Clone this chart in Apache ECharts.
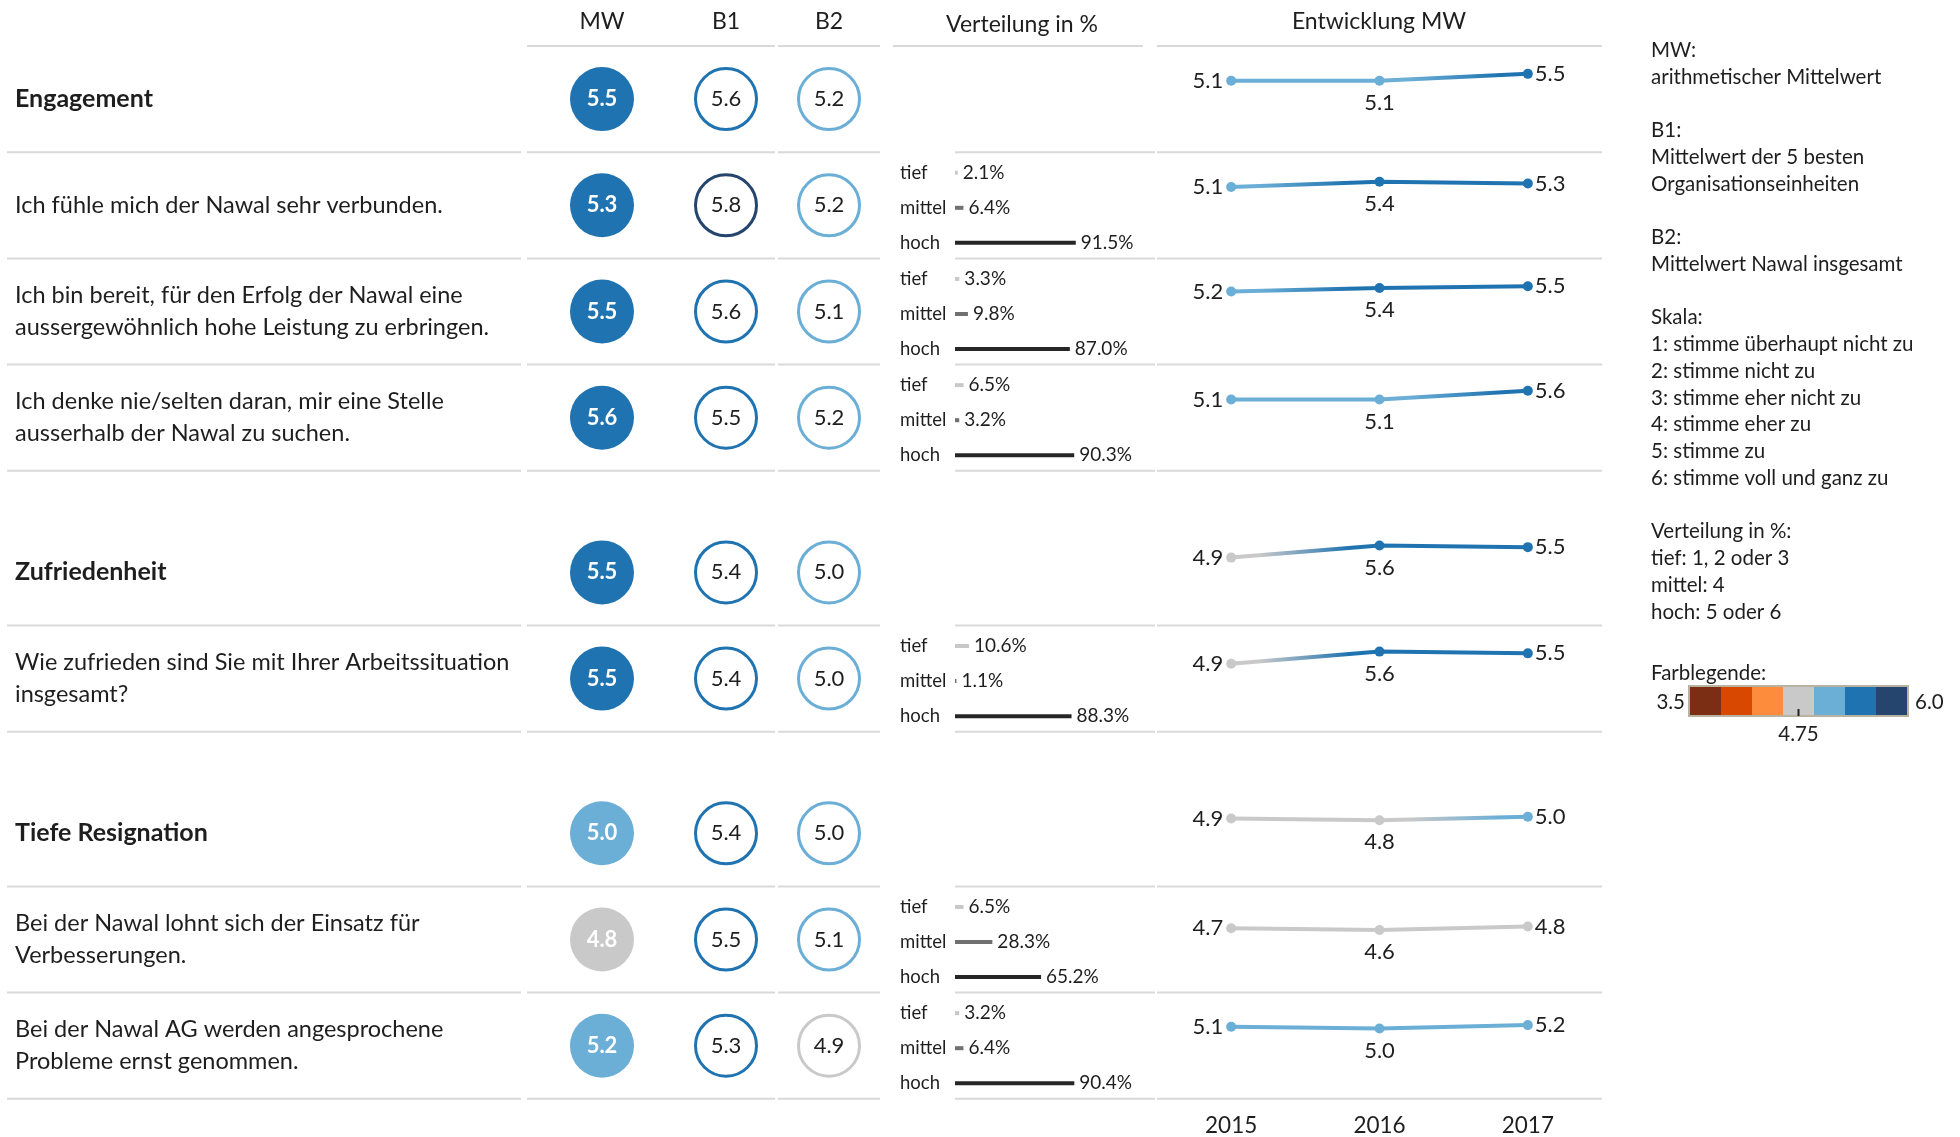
<!DOCTYPE html>
<html>
<head>
<meta charset="utf-8">
<script src="https://cdn.jsdelivr.net/npm/echarts@6/dist/echarts.min.js"></script>
<style>
  html, body { margin: 0; padding: 0; background: #fff; }
  #main { width: 1960px; height: 1137px; }
</style>
</head>
<body>
<div id="main"></div>
<script>
// rows of the table, section titles start at the indices in sectionStarts
const rowLabels = [
  'Engagement',
  'Ich fühle mich der Nawal sehr verbunden.',
  'Ich bin bereit, für den Erfolg der Nawal eine\naussergewöhnlich hohe Leistung zu erbringen.',
  'Ich denke nie/selten daran, mir eine Stelle\nausserhalb der Nawal zu suchen.',
  'Zufriedenheit',
  'Wie zufrieden sind Sie mit Ihrer Arbeitssituation\ninsgesamt?',
  'Tiefe Resignation',
  'Bei der Nawal lohnt sich der Einsatz für\nVerbesserungen.',
  'Bei der Nawal AG werden angesprochene\nProbleme ernst genommen.'
]
const sectionStarts = [0, 4, 6]
const columns = ['MW', 'B1', 'B2']

const mwValues = [5.5, 5.3, 5.5, 5.6, 5.5, 5.5, 5.0, 4.8, 5.2]
const b1Values = [5.6, 5.8, 5.6, 5.5, 5.4, 5.4, 5.4, 5.5, 5.3]
const b2Values = [5.2, 5.2, 5.1, 5.2, 5.0, 5.0, 5.0, 5.1, 4.9]

// Verteilung in % (null = Abschnittstitel ohne Verteilung)
const distLevels = ['tief', 'mittel', 'hoch']
const tiefPct = [null, 2.1, 3.3, 6.5, null, 10.6, null, 6.5, 3.2]
const mittelPct = [null, 6.4, 9.8, 3.2, null, 1.1, null, 28.3, 6.4]
const hochPct = [null, 91.5, 87.0, 90.3, null, 88.3, null, 65.2, 90.4]

// Entwicklung MW
const years = ['2015', '2016', '2017']
const trendValues = [
  [5.1, 5.1, 5.5],
  [5.1, 5.4, 5.3],
  [5.2, 5.4, 5.5],
  [5.1, 5.1, 5.6],
  [4.9, 5.6, 5.5],
  [4.9, 5.6, 5.5],
  [4.9, 4.8, 5.0],
  [4.7, 4.6, 4.8],
  [5.1, 5.0, 5.2]
]

// Farblegende
const scaleMin = 3.5
const scaleMax = 6.0
const scaleMid = 4.75
const scaleColors = ['#7b2e13', '#d94801', '#fd8d3c', '#c9c9c9', '#6baed6', '#1f73b0', '#26456e']

const legendLines = [
  'MW:', 'arithmetischer Mittelwert', '',
  'B1:', 'Mittelwert der 5 besten', 'Organisationseinheiten', '',
  'B2:', 'Mittelwert Nawal insgesamt', '',
  'Skala:', '1: stimme überhaupt nicht zu', '2: stimme nicht zu', '3: stimme eher nicht zu',
  '4: stimme eher zu', '5: stimme zu', '6: stimme voll und ganz zu', '',
  'Verteilung in %:', 'tief: 1, 2 oder 3', 'mittel: 4', 'hoch: 5 oder 6'
]

const FONT = 'Lato, "Open Sans", sans-serif'
const TEXT = '#1e1e1e'
const LINE = '#d9d9d9'
const distColors = ['#c8c8c8', '#707070', '#262626']

// layout
const headerBottom = 46
const rowH = 106.2
const sectionGap = 48.5
const rowTop = []
let yPos = headerBottom
rowLabels.forEach((_, i) => {
  if (i > 0 && sectionStarts.includes(i)) yPos += sectionGap
  rowTop.push(yPos)
  yPos += rowH
})
const colCenter = [602, 726, 829]

const step = (scaleMax - scaleMin) / scaleColors.length
const pieces = scaleColors.map((c, i) => {
  const p = { gte: scaleMin + i * step, color: c }
  if (i === scaleColors.length - 1) p.lte = scaleMax
  else p.lt = scaleMin + (i + 1) * step
  return p
})

function colorFor(v) {
  const i = Math.min(scaleColors.length - 1, Math.max(0, Math.floor((v - scaleMin) / step)))
  return scaleColors[i]
}

const grids = []
const xAxes = []
const yAxes = []
const series = []
const mwSeries = []

function addGrid(grid, xAxis, yAxis) {
  grids.push(grid)
  const gi = grids.length - 1
  xAxis.gridIndex = gi
  yAxis.gridIndex = gi
  xAxes.push(xAxis)
  yAxes.push(yAxis)
  return gi
}

const hidden = { show: false }

// Kreise MW / B1 / B2, ein Grid pro Abschnitt und Spalte
const colValues = [mwValues, b1Values, b2Values]
sectionStarts.forEach((start, s) => {
  const end = s < sectionStarts.length - 1 ? sectionStarts[s + 1] : rowLabels.length
  const rows = []
  for (let r = start; r < end; r++) rows.push(r)
  columns.forEach((col, c) => {
    const gi = addGrid({
      left: colCenter[c] - 50,
      width: 100,
      top: rowTop[start],
      height: rows.length * rowH
    }, {
      type: 'category',
      data: [col],
      position: 'top',
      axisLine: hidden,
      axisTick: hidden,
      axisLabel: { show: s === 0, margin: 13, fontSize: 23, color: TEXT, fontFamily: FONT }
    }, {
      type: 'category',
      inverse: true,
      data: rows.map(r => rowLabels[r]),
      axisLine: hidden,
      axisTick: hidden,
      axisLabel: c === 0 ? {
        show: true,
        align: 'left',
        margin: colCenter[c] - 50 - 15,
        formatter: (val, idx) => idx === 0 ? '{s|' + val + '}' : '{n|' + val + '}',
        rich: {
          s: { fontSize: 25, fontWeight: 'bold', color: TEXT, fontFamily: FONT },
          n: { fontSize: 23.5, lineHeight: 32, color: TEXT, fontFamily: FONT }
        }
      } : hidden
    })
    const isMW = c === 0
    if (isMW) mwSeries.push(series.length)
    series.push({
      type: 'scatter',
      xAxisIndex: gi,
      yAxisIndex: gi,
      symbol: 'circle',
      symbolSize: isMW ? 64 : 61,
      silent: true,
      itemStyle: { opacity: 1 },
      data: rows.map((r, k) => {
        const v = colValues[c][r]
        const item = { value: [0, k, v] }
        if (!isMW) item.itemStyle = { color: '#fff', borderColor: colorFor(v), borderWidth: 3, opacity: 1 }
        return item
      }),
      label: {
        show: true,
        position: 'inside',
        formatter: p => p.value[2].toFixed(1),
        fontSize: 22,
        fontFamily: FONT,
        fontWeight: isMW ? 'bold' : 'normal',
        color: isMW ? '#fff' : TEXT
      }
    })
  })
})

// Verteilung in %
rowLabels.forEach((_, r) => {
  if (hochPct[r] == null) return
  const gi = addGrid({
    left: 955,
    width: 132,
    top: rowTop[r] + 3,
    height: rowH - 1
  }, {
    type: 'value', min: 0, max: 100, show: false
  }, {
    type: 'category',
    inverse: true,
    data: distLevels,
    axisLine: hidden,
    axisTick: hidden,
    axisLabel: { align: 'left', margin: 55, fontSize: 18.5, color: TEXT, fontFamily: FONT }
  })
  series.push({
    type: 'bar',
    xAxisIndex: gi,
    yAxisIndex: gi,
    barWidth: 4,
    silent: true,
    data: [tiefPct[r], mittelPct[r], hochPct[r]].map((v, k) => ({ value: v, itemStyle: { color: distColors[k] } })),
    label: {
      show: true,
      position: 'right',
      distance: 5,
      formatter: p => p.value.toFixed(1) + '%',
      fontSize: 19,
      color: TEXT,
      fontFamily: FONT
    }
  })
})

// Entwicklung MW
const labelPos = ['left', 'bottom', 'right']
const labelDist = [3, 6, 2]
rowLabels.forEach((_, r) => {
  const vals = trendValues[r]
  const gi = addGrid({
    left: 1157,
    width: 445,
    top: rowTop[r],
    height: rowH
  }, {
    type: 'category',
    data: years,
    boundaryGap: true,
    axisLine: hidden,
    axisTick: hidden,
    axisLabel: { show: r === rowLabels.length - 1, margin: 17, fontSize: 22.5, color: TEXT, fontFamily: FONT }
  }, {
    type: 'value', min: 1, max: 7.1, show: false
  })
  const cs = vals.map(colorFor)
  series.push({
    type: 'line',
    xAxisIndex: gi,
    yAxisIndex: gi,
    symbol: 'circle',
    symbolSize: 10,
    silent: true,
    lineStyle: {
      width: 4,
      color: new echarts.graphic.LinearGradient(0, 0, 1, 0, [
        { offset: 0, color: cs[0] }, { offset: 0.1, color: cs[0] },
        { offset: 0.4, color: cs[1] }, { offset: 0.6, color: cs[1] },
        { offset: 0.9, color: cs[2] }, { offset: 1, color: cs[2] }
      ])
    },
    data: vals.map((v, k) => ({
      value: v,
      itemStyle: { color: cs[k] },
      label: { position: labelPos[k], distance: labelDist[k] }
    })),
    label: {
      show: true,
      formatter: p => p.value.toFixed(1),
      fontSize: 22,
      color: TEXT,
      fontFamily: FONT
    }
  })
})

// Trennlinien
const graphics = []
function hline(x1, x2, y) {
  graphics.push({
    type: 'line', silent: true,
    shape: { x1: x1, y1: y, x2: x2, y2: y },
    style: { stroke: LINE, lineWidth: 2 }
  })
}
;[[527, 775], [778, 880], [893, 1143], [1157, 1602]].forEach(s => hline(s[0], s[1], headerBottom))
rowTop.forEach(t => {
  ;[[7, 521], [527, 775], [778, 880], [955, 1155], [1157, 1602]].forEach(s => hline(s[0], s[1], t + rowH))
})

function text(str, x, y, opts) {
  graphics.push({
    type: 'text', silent: true,
    style: Object.assign({
      text: str, x: x, y: y, fontSize: 23, fontFamily: FONT, fill: TEXT,
      textAlign: 'center', textVerticalAlign: 'middle'
    }, opts || {})
  })
}
text('Verteilung in %', 1022, 25)
text('Entwicklung MW', 1379, 22)
text(legendLines.join('\n'), 1651, 37, { fontSize: 20.5, lineHeight: 26.75, textAlign: 'left', textVerticalAlign: 'top' })
text('Farblegende:', 1651, 673, { fontSize: 20.5, textAlign: 'left' })

// Farblegende: Rahmen, Endwerte, Mittelmarke
const legendLeft = 1690
const legendItemW = 31
const legendW = legendItemW * scaleColors.length
graphics.push({
  type: 'rect', silent: true, z: 100,
  shape: { x: legendLeft - 1, y: 686, width: legendW + 2, height: 30 },
  style: { fill: 'none', stroke: '#b8b3a0', lineWidth: 2 }
})
text(scaleMin.toFixed(1), legendLeft - 5, 702, { fontSize: 20.5, textAlign: 'right' })
text(scaleMax.toFixed(1), legendLeft + legendW + 8, 702, { fontSize: 20.5, textAlign: 'left' })
const midX = legendLeft + (scaleMid - scaleMin) / (scaleMax - scaleMin) * legendW
graphics.push({
  type: 'line', silent: true, z: 100,
  shape: { x1: midX, y1: 709, x2: midX, y2: 716 },
  style: { stroke: '#222', lineWidth: 2 }
})
text(scaleMid.toFixed(2), midX, 734, { fontSize: 20.5 })

const option = {
  animation: false,
  backgroundColor: '#fff',
  grid: grids,
  xAxis: xAxes,
  yAxis: yAxes,
  visualMap: {
    type: 'piecewise',
    seriesIndex: mwSeries,
    dimension: 2,
    pieces: pieces,
    orient: 'horizontal',
    itemSymbol: 'rect',
    itemWidth: legendItemW,
    itemHeight: 28,
    itemGap: 0,
    padding: 0,
    showLabel: false,
    left: legendLeft,
    top: 687,
    hoverLink: false,
    selectedMode: false
  },
  graphic: graphics,
  series: series
}

const chart = echarts.init(document.getElementById('main'))
chart.setOption(option)
</script>
</body>
</html>
